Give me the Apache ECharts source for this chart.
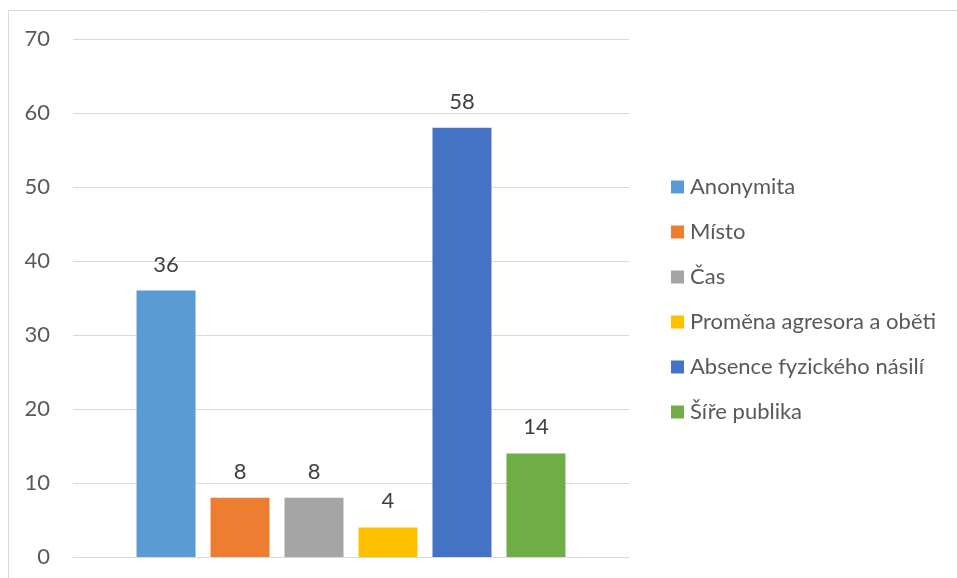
<!DOCTYPE html>
<html>
<head>
<meta charset="utf-8">
<script src="https://cdn.jsdelivr.net/npm/echarts@6/dist/echarts.min.js"></script>
<style>
html,body{margin:0;padding:0;background:#fff;}
#chart{width:957px;height:578px;}
</style>
</head>
<body>
<div id="chart"></div>
<script>
const categories = [''];
const seriesNames = ['Anonymita', 'Místo', 'Čas', 'Proměna agresora a oběti', 'Absence fyzického násilí', 'Šíře publika'];
const values = [36, 8, 8, 4, 58, 14];
const yTicks = { min: 0, max: 70, interval: 10 };
const palette = ['#5B9BD5', '#ED7D31', '#A5A5A5', '#FFC000', '#4472C4', '#70AD47'];

const FONT = 'Lato, "Open Sans", sans-serif';
const chart = echarts.init(document.getElementById('chart'), null, { renderer: 'canvas' });

const series = seriesNames.map((name, i) => ({
  name: name,
  type: 'bar',
  data: [values[i]],
  barWidth: 59,
  barGap: '25.4%',
  itemStyle: { color: palette[i] },
  label: {
    show: true,
    position: 'top',
    distance: 15,
    color: '#404040',
    fontSize: 22,
    fontFamily: FONT
  }
}));

chart.setOption({
  animation: false,
  backgroundColor: '#fff',
  color: palette,
  graphic: [{
    type: 'rect',
    shape: { x: 8.5, y: 10.5, width: 1200, height: 1200 },
    style: { fill: 'none', stroke: '#d9d9d9', lineWidth: 1 },
    silent: true
  }],
  grid: { left: 73, right: 328, top: 39, bottom: 21, containLabel: false },
  legend: {
    orient: 'vertical',
    left: 671,
    top: 176,
    padding: 0,
    itemWidth: 13,
    itemHeight: 13,
    itemGap: 23,
    icon: 'rect',
    textStyle: { color: '#595959', fontSize: 22, fontFamily: FONT, lineHeight: 22, padding: [0, 0, 0, 1] },
    data: seriesNames
  },
  xAxis: {
    type: 'category',
    data: categories,
    axisLine: { show: true, lineStyle: { color: '#d9d9d9' } },
    axisTick: { show: false },
    axisLabel: { show: false }
  },
  yAxis: {
    type: 'value',
    min: yTicks.min,
    max: yTicks.max,
    interval: yTicks.interval,
    axisLine: { show: false },
    axisTick: { show: false },
    axisLabel: { color: '#595959', fontSize: 22, fontFamily: FONT, margin: 23 },
    splitLine: { lineStyle: { color: '#d9d9d9', width: 1 } }
  },
  series: series
});
</script>
</body>
</html>
